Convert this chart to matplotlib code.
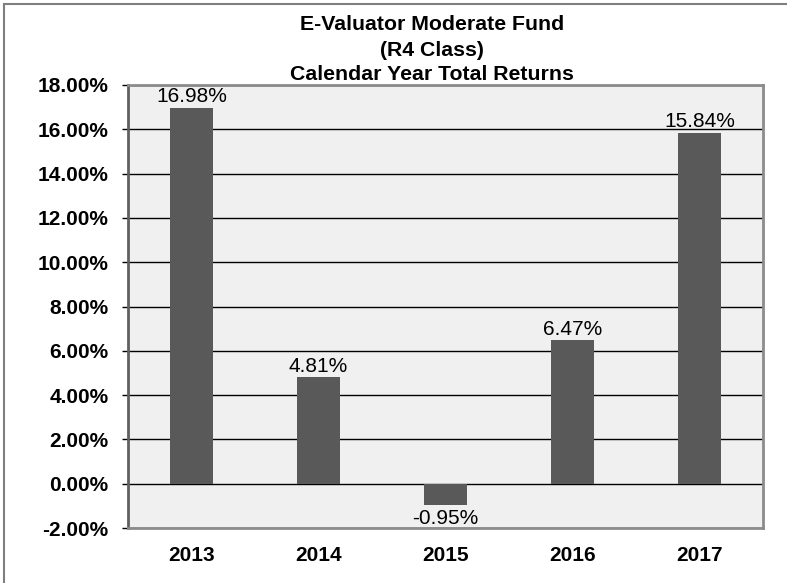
import matplotlib
matplotlib.use("Agg")
import matplotlib.pyplot as plt
from matplotlib.patches import Rectangle
from matplotlib.ticker import FuncFormatter

plt.rcParams['font.family'] = ['Liberation Sans', 'DejaVu Sans']

years = ['2013', '2014', '2015', '2016', '2017']
returns = [16.98, 4.81, -0.95, 6.47, 15.84]
y_ticks = [-2, 0, 2, 4, 6, 8, 10, 12, 14, 16, 18]
title_lines = ['E-Valuator Moderate Fund', '(R4 Class)', 'Calendar Year Total Returns']

fig = plt.figure(figsize=(7.87, 5.83), dpi=100)
W, H = 787, 583
ax = fig.add_axes([128 / W, 1 - 528 / H, (763 - 128) / W, (528 - 85) / H])

# outer frame of the chart (right/bottom edges fall outside the image)
fig.patches.append(Rectangle((4 / W, -0.1), 1.2, 1 - 4 / H + 0.1, transform=fig.transFigure,
                             fill=False, edgecolor='#7f7f7f', linewidth=1.5, zorder=0))

ax.set_facecolor('#f0f0f0')
x = range(len(years))
ax.bar(x, returns, width=0.34, color='#595959', zorder=3)

for i, v in zip(x, returns):
    if v >= 0:
        ax.annotate(f'{v:.2f}%', (i, v), xytext=(0, 4), textcoords='offset points',
                    ha='center', va='baseline', fontsize=15, zorder=4)
    else:
        ax.text(i, v - 0.2, f'{v:.2f}%', ha='center', va='top', fontsize=15, zorder=4)

ax.set_xlim(-0.5, len(years) - 0.5)
ax.set_ylim(-2, 18)
ax.set_yticks(y_ticks)
ax.yaxis.set_major_formatter(FuncFormatter(lambda v, p: f'{v:.2f}%'))
ax.set_xticks(list(x))
ax.set_xticklabels(years)
for lbl in ax.get_xticklabels() + ax.get_yticklabels():
    lbl.set_fontweight('bold')
    lbl.set_fontsize(15)
ax.tick_params(axis='x', length=0, pad=13)
ax.tick_params(axis='y', length=4, width=1, color='black', pad=10, direction='out')

ax.grid(axis='y', color='black', linewidth=1, zorder=1)
ax.set_axisbelow(True)

for side in ['top', 'right', 'bottom']:
    ax.spines[side].set_color('#8c8c8c')
    ax.spines[side].set_linewidth(2)
ax.spines['left'].set_color('#606060')
ax.spines['left'].set_linewidth(2)

# title, one line at a time (baselines)
for line, base in zip(title_lines, [30.5, 55.5, 80.5]):
    fig.text(432 / W, 1 - base / H, line, ha='center', va='baseline',
             fontsize=15.3, fontweight='bold')

fig.savefig('out.png', dpi=100)
